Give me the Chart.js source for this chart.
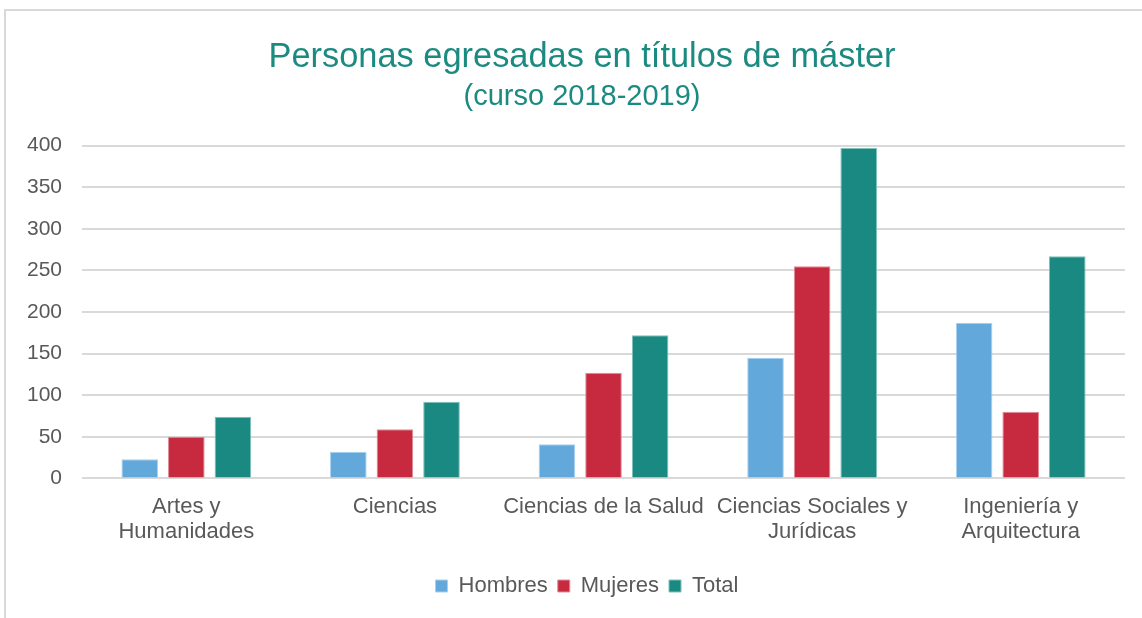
<!DOCTYPE html>
<html>
<head>
<meta charset="utf-8">
<script src="https://cdn.jsdelivr.net/npm/chart.js@4/dist/chart.umd.min.js"></script>
<style>
  html, body { margin: 0; padding: 0; background: #fff; }
  #wrap { position: relative; width: 1142px; height: 618px; overflow: hidden; }
  #frame { position: absolute; left: 4px; top: 9px; width: 1200px; height: 700px;
           border-left: 2px solid #d9d9d9; border-top: 2px solid #d9d9d9; box-sizing: border-box; }
  canvas { position: absolute; left: 0; top: 0; }
</style>
</head>
<body>
<div id="wrap">
  <div id="frame"></div>
  <canvas id="c" width="1142" height="618"></canvas>
</div>
<script>
const categories = [
  ["Artes y", "Humanidades"],
  "Ciencias",
  "Ciencias de la Salud",
  ["Ciencias Sociales y", "Jurídicas"],
  ["Ingeniería y", "Arquitectura"]
];
const hombres = [23, 32, 41, 145, 187];
const mujeres = [50, 59, 127, 255, 80];
const total = [74, 92, 172, 397, 267];
const yTicks = [0, 50, 100, 150, 200, 250, 300, 350, 400];

const FONT = "'Liberation Sans', Arial, sans-serif";
const TEXT = '#595959';

// shift the title/subtitle/legend boxes horizontally to match the reference centring
const shiftBoxes = {
  id: 'shiftBoxes',
  afterLayout(chart) {
    chart.boxes.forEach(b => {
      if (b.axis) return;
      const dx = (b === chart.legend) ? 21 : 16;
      b.left += dx;
      b.right += dx;
    });
  }
};

new Chart(document.getElementById('c'), {
  type: 'bar',
  data: {
    labels: categories,
    datasets: [
      { label: 'Hombres', data: hombres, backgroundColor: '#62a8db', borderColor: '#a9d0ee', borderWidth: 1 },
      { label: 'Mujeres', data: mujeres, backgroundColor: '#c7293e', borderColor: '#e08e99', borderWidth: 1 },
      { label: 'Total', data: total, backgroundColor: '#1a8981', borderColor: '#7fc1bb', borderWidth: 1 }
    ]
  },
  plugins: [shiftBoxes],
  options: {
    responsive: false,
    animation: false,
    devicePixelRatio: 1,
    layout: { padding: { left: 7, right: 17, top: 37, bottom: 11 } },
    datasets: { bar: { barPercentage: 0.786, categoryPercentage: 0.67 } },
    scales: {
      x: {
        grid: { display: false, drawTicks: false },
        border: { display: false },
        afterFit: (axis) => { axis.height += 4; },
        ticks: { color: TEXT, font: { family: FONT, size: 22, lineHeight: 1.15 }, padding: 16, maxRotation: 0, autoSkip: false }
      },
      y: {
        min: 0, max: 400,
        afterBuildTicks: (axis) => { axis.ticks = yTicks.map(v => ({ value: v })); },
        grid: { color: '#d9d9d9', lineWidth: 2, drawTicks: false },
        border: { display: false },
        ticks: { color: TEXT, font: { family: FONT, size: 21 }, padding: 20 }
      }
    },
    plugins: {
      title: {
        display: true,
        text: 'Personas egresadas en títulos de máster',
        color: '#1b8a80',
        font: { family: FONT, size: 34.4, weight: 'normal' },
        padding: { top: 0, bottom: 1 }
      },
      subtitle: {
        display: true,
        text: '(curso 2018-2019)',
        color: '#1b8a80',
        font: { family: FONT, size: 29, weight: 'normal' },
        padding: { top: 0, bottom: 31.5 }
      },
      legend: {
        position: 'bottom',
        labels: { color: TEXT, font: { family: FONT, size: 22 }, boxWidth: 12, boxHeight: 12, padding: 10 }
      },
      tooltip: { enabled: false }
    }
  }
});
</script>
</body>
</html>
